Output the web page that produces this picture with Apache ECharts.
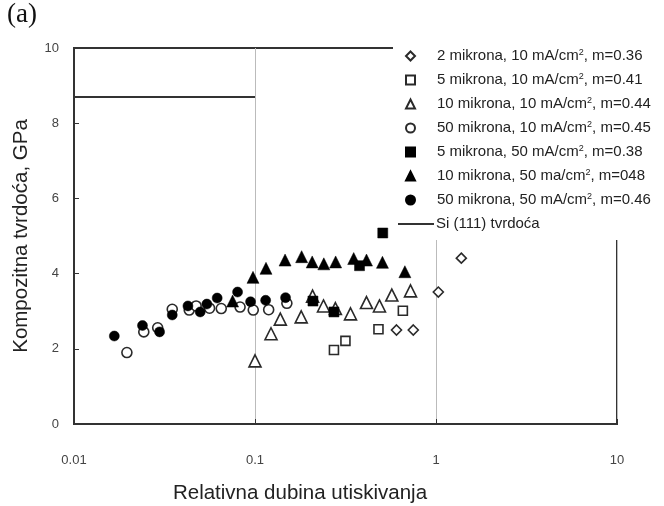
<!DOCTYPE html>
<html>
<head>
<meta charset="utf-8">
<script src="https://cdn.jsdelivr.net/npm/echarts@6/dist/echarts.min.js"></script>
<style>
html,body{margin:0;padding:0;background:#fff;}
#chart{width:664px;height:506px;}
</style>
</head>
<body>
<div id="chart"></div>
<script>
// ---- data ----
var xTickLabels = ['0.01', '0.1', '1', '10'];
var yTickLabels = ['0', '2', '4', '6', '8', '10'];

var seriesNames = [
  '2 mikrona, 10 mA/cm2, m=0.36',
  '5 mikrona, 10 mA/cm2, m=0.41',
  '10 mikrona, 10 mA/cm2, m=0.44',
  '50 mikrona, 10 mA/cm2, m=0.45',
  '5 mikrona, 50 mA/cm2, m=0.38',
  '10 mikrona, 50 ma/cm2, m=048',
  '50 mikrona, 50 mA/cm2, m=0.46'
];
var siName = 'Si (111) tvrdoća';

var d2um10 = [[0.605, 2.50], [0.749, 2.50], [1.03, 3.51], [1.38, 4.41]];
var d5um10 = [[0.273, 1.97], [0.316, 2.21], [0.481, 2.52], [0.656, 3.01]];
var d10um10 = [[0.100, 1.68], [0.1226, 2.40], [0.138, 2.79], [0.180, 2.85], [0.208, 3.40], [0.239, 3.14],
               [0.278, 3.07], [0.337, 2.93], [0.413, 3.23], [0.487, 3.14], [0.570, 3.43], [0.723, 3.54]];
var d50um10 = [[0.0196, 1.90], [0.0243, 2.45], [0.0290, 2.56], [0.0349, 3.05], [0.0433, 3.03], [0.0473, 3.14],
               [0.0561, 3.08], [0.0651, 3.07], [0.0827, 3.11], [0.0978, 3.03], [0.119, 3.04], [0.150, 3.21]];
var d5um50 = [[0.209, 3.27], [0.273, 2.98], [0.378, 4.21], [0.508, 5.08]];
var d10um50 = [[0.0752, 3.27], [0.0975, 3.90], [0.115, 4.14], [0.1466, 4.36], [0.181, 4.45], [0.207, 4.31],
               [0.240, 4.26], [0.279, 4.31], [0.351, 4.40], [0.413, 4.36], [0.506, 4.30], [0.673, 4.05]];
var d50um50 = [[0.0167, 2.34], [0.0239, 2.62], [0.0297, 2.45], [0.0349, 2.90], [0.0426, 3.14], [0.0498, 2.98],
               [0.0542, 3.19], [0.0618, 3.35], [0.0801, 3.51], [0.0945, 3.25], [0.1145, 3.29], [0.1475, 3.36]];
var siLine = [[0.01, 8.7], [0.1, 8.7]];

var xName = 'Relativna dubina utiskivanja';
var yName = 'Kompozitna tvrdoća, GPa';
var panelLabel = '(a)';

// ---- styling ----
var seriesData = [d2um10, d5um10, d10um10, d50um10, d5um50, d10um50, d50um50];
var symbols = ['diamond', 'rect', 'triangle', 'circle', 'rect', 'triangle', 'circle'];
var sizes = [10, 9, 12, 10, 10, 12, 10];
var filled = [false, false, false, false, true, true, true];

var chart = echarts.init(document.getElementById('chart'), null, {renderer: 'canvas'});

var series = seriesData.map(function (d, i) {
  return {
    name: seriesNames[i],
    type: 'scatter',
    data: d,
    symbol: symbols[i],
    symbolSize: sizes[i],
    itemStyle: filled[i]
      ? {color: '#000', borderColor: '#000', borderWidth: 0.5, opacity: 1}
      : {color: '#fff', borderColor: '#2a2a2a', borderWidth: 1.6, opacity: 1},
    z: 2
  };
});
series.push({
  name: siName,
  type: 'line',
  data: siLine,
  symbol: 'none',
  lineStyle: {color: '#333', width: 2},
  itemStyle: {color: '#333'},
  z: 2
});

var font = 'Liberation Sans, Arial, sans-serif';

var option = {
  backgroundColor: '#fff',
  animation: false,
  grid: {left: 74, right: 47, top: 48, bottom: 82, show: true, borderColor: '#333', borderWidth: 2},
  xAxis: {
    type: 'log', logBase: 10, min: 0.01, max: 10,
    axisLine: {lineStyle: {color: '#333', width: 2}},
    axisTick: {inside: true, length: 5, lineStyle: {color: '#333', width: 1}},
    minorTick: {show: false},
    splitLine: {show: true, lineStyle: {color: '#bbb', width: 1}},
    axisLabel: {
      margin: 30, fontSize: 13, color: '#444', fontFamily: font,
      formatter: function (v, idx) { return xTickLabels[idx]; }
    }
  },
  yAxis: {
    type: 'value', min: 0, max: 10, interval: 2,
    axisLine: {show: true, lineStyle: {color: '#333', width: 2}},
    axisTick: {show: true, inside: true, length: 5, lineStyle: {color: '#333', width: 1}},
    splitLine: {show: false},
    axisLabel: {
      margin: 15, fontSize: 13, color: '#444', fontFamily: font,
      formatter: function (v, idx) { return yTickLabels[idx]; }
    }
  },
  legend: [{
    data: seriesNames,
    orient: 'vertical',
    left: 405, top: 48,
    padding: 0,
    itemWidth: 9, itemHeight: 9,
    itemGap: 8,
    z: 10,
    textStyle: {
      fontFamily: font, fontSize: 15, color: '#222', lineHeight: 16,
      padding: [0, 0, 0, 17],
      rich: {
        b: {fontFamily: font, fontSize: 15, color: '#222', lineHeight: 16},
        sup: {fontFamily: font, fontSize: 9, color: '#222', lineHeight: 16, verticalAlign: 'top', padding: [0, 0, 6, 0]}
      }
    },
    formatter: function (name) {
      var p = name.split('cm2');
      return '{b|' + p[0] + 'cm}{sup|2}{b|' + p[1] + '}';
    }
  }, {
    data: [{name: siName, icon: 'rect', itemStyle: {color: '#333'}}],
    orient: 'vertical',
    left: 398, top: 216,
    padding: 0,
    itemWidth: 36, itemHeight: 2,
    z: 10,
    textStyle: {fontFamily: font, fontSize: 15, color: '#222', lineHeight: 16, padding: [0, 0, 0, -3]}
  }],
  graphic: [
    {type: 'rect', shape: {x: 393, y: 38, width: 271, height: 202}, style: {fill: '#fff'}, z: 5},
    {type: 'text', left: 7, top: 1, z: 10,
     style: {text: panelLabel, font: '27px "Liberation Serif", "Times New Roman", serif', fill: '#111'}},
    {type: 'text', z: 10, x: 300, y: 493,
     style: {text: xName, font: '20.5px ' + font, fill: '#222', align: 'center', verticalAlign: 'middle'}},
    {type: 'text', z: 10, x: 21, y: 236, rotation: Math.PI / 2,
     style: {text: yName, font: '20.5px ' + font, fill: '#222', align: 'center', verticalAlign: 'middle'}}
  ],
  series: series
};
chart.setOption(option);
</script>
</body>
</html>
